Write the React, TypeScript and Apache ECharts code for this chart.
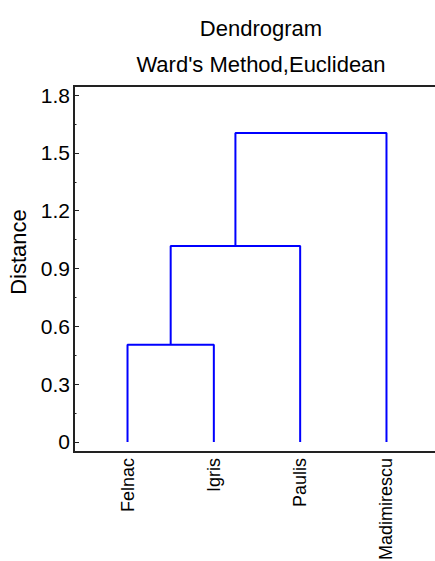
import React, { useEffect, useRef } from "react";
import * as echarts from "echarts";

const leaves = ["Felnac", "Igris", "Paulis", "Madimirescu"];
// clusters: 0..3 are leaves, 4.. are merges in order
const mergeLeft = [0, 4, 5];
const mergeRight = [1, 2, 3];
const mergeHeights = [0.505, 1.017, 1.603];
const majorTicks = [0, 0.3, 0.6, 0.9, 1.2, 1.5, 1.8];
const minorTicks = [0.15, 0.45, 0.75, 1.05, 1.35, 1.65];
const titleLines = ["Dendrogram", "Ward's Method,Euclidean"];
const yName = "Distance";

const FONT = "'Liberation Sans', Arial, sans-serif";
const LINK = "#0000ff";

function buildLinks() {
  const xs: number[] = leaves.map((_, i) => i + 1);
  const ys: number[] = leaves.map(() => 0);
  const series: any[] = [];
  mergeHeights.forEach((h, k) => {
    const a = mergeLeft[k];
    const b = mergeRight[k];
    series.push({
      type: "line",
      name: "merge" + (k + 1),
      symbol: "none",
      silent: true,
      lineStyle: { color: LINK, width: 2 },
      data: [
        [xs[a], ys[a]],
        [xs[a], h],
        [xs[b], h],
        [xs[b], ys[b]],
      ],
    });
    xs.push((xs[a] + xs[b]) / 2);
    ys.push(h);
  });
  return series;
}

export default function App() {
  const ref = useRef<HTMLDivElement>(null);
  useEffect(() => {
    if (!ref.current) return;
    const chart = echarts.init(ref.current, null, { renderer: "svg" });
    const yMin = -0.052;
    const yMax = 1.847;
    const mkY = (pos: string, custom: number[], len: number, labels: boolean) => ({
      type: "value",
      position: pos,
      min: yMin,
      max: yMax,
      axisLine: { show: false },
      splitLine: { show: false },
      axisTick: {
        show: true,
        inside: true,
        length: len,
        customValues: custom,
        lineStyle: { color: "#222", width: 1 },
      },
      axisLabel: {
        show: labels,
        customValues: custom,
        margin: 4,
        fontSize: 21,
        fontFamily: FONT,
        color: "#000",
        formatter: (v: number) => (v === 0 ? "0" : v.toFixed(1)),
      },
    });
    chart.setOption({
      animation: false,
      backgroundColor: "#fff",
      title: {
        text: titleLines.join("\n"),
        left: 256,
        top: 5,
        textAlign: "center",
        textStyle: {
          fontFamily: FONT,
          fontSize: 22,
          fontWeight: "normal",
          color: "#000",
          lineHeight: 36,
        },
      },
      grid: {
        left: 74,
        top: 86,
        width: 366,
        height: 366,
        outerBoundsMode: "none",
        containLabel: false,
        show: true,
        borderColor: "#222",
        borderWidth: 2,
        backgroundColor: "transparent",
      },
      xAxis: {
        type: "value",
        min: 0.38,
        max: 4.62,
        axisLine: { show: false },
        axisTick: { show: false },
        splitLine: { show: false },
        axisLabel: {
          customValues: leaves.map((_, i) => i + 1),
          formatter: (v: number) => leaves[Math.round(v) - 1] ?? "",
          rotate: 90,
          margin: 6,
          fontSize: 18,
          fontFamily: FONT,
          color: "#000",
        },
      },
      yAxis: [
        mkY("left", majorTicks, 5, true),
        mkY("left", minorTicks, 2.5, false),
        mkY("right", majorTicks, 5, false),
        mkY("right", minorTicks, 2.5, false),
      ],
      graphic: [
        {
          type: "text",
          x: 18,
          y: 252,
          rotation: Math.PI / 2,
          style: {
            text: yName,
            fontFamily: FONT,
            fontSize: 22,
            fill: "#000",
            align: "center",
            verticalAlign: "middle",
          },
        },
      ],
      series: buildLinks(),
    });
    return () => chart.dispose();
  }, []);
  return (
    <div
      ref={ref}
      style={{ position: "absolute", left: 0, top: 0, width: 435, height: 561 }}
    />
  );
}
